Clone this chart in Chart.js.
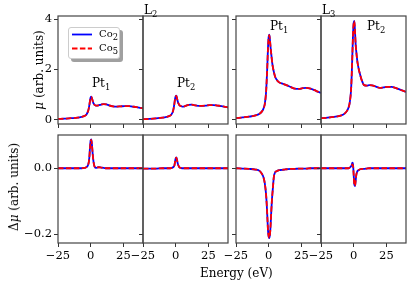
<!DOCTYPE html>
<html>
<head>
<meta charset="utf-8">
<script src="https://cdn.jsdelivr.net/npm/chart.js@4"></script>
<style>
  body { margin: 0; background: #fff; }
  #wrap { position: relative; width: 415px; height: 289px; overflow: hidden; font-family: "DejaVu Serif", serif; color: #000; }
  canvas { position: absolute; }
  .txt { position: absolute; white-space: nowrap; font-size: 12px; line-height: 1; }
  .txt sub { font-size: 70%; vertical-align: -0.3em; line-height: 0; }
  .rot { transform: translate(-50%, -50%) rotate(-90deg); }
  #legend { position: absolute; left: 68px; top: 27px; width: 50px; height: 30px; background: #fff;
            border: 1px solid #ccc; border-radius: 3px; box-shadow: 3px 3px 0 #a0a0a0; }
  #legend .lab { position: absolute; left: 30px; font-size: 10px; line-height: 1; }
  #legend svg { position: absolute; left: 3px; top: 0; }
</style>
</head>
<body>
<div id="wrap">
  <div id="legend">
    <svg width="24" height="30">
      <line x1="0" y1="6.5" x2="20" y2="6.5" stroke="#0000ff" stroke-width="1.8"/>
      <line x1="0" y1="20.5" x2="20" y2="20.5" stroke="#ff0000" stroke-width="1.8" stroke-dasharray="5.5 2.4"/>
    </svg>
    <div class="lab" style="top:1px">Co<sub>2</sub></div>
    <div class="lab" style="top:15px">Co<sub>5</sub></div>
  </div>
</div>
<script>
// energy grid (eV), shared by every panel
const energy = [-25, -20, -15, -10, -7, -5, -4, -3, -2, -1.5, -1, -0.5, 0, 0.5, 1, 1.5, 2, 2.5, 3, 4, 5, 6, 8, 10, 12, 14, 17, 20, 23, 26, 29, 32, 35, 38, 40];

// mu, L2 edge
const l2Pt1Co2 = [0.04, 0.05, 0.07, 0.09, 0.12, 0.15, 0.18, 0.24, 0.35, 0.45, 0.6, 0.78, 0.9, 0.92, 0.85, 0.76, 0.68, 0.63, 0.6, 0.57, 0.57, 0.58, 0.61, 0.63, 0.62, 0.58, 0.54, 0.53, 0.54, 0.55, 0.55, 0.53, 0.51, 0.48, 0.46];
const l2Pt1Co5 = [0.04, 0.05, 0.07, 0.09, 0.12, 0.15, 0.18, 0.24, 0.35, 0.45, 0.59, 0.77, 0.89, 0.91, 0.85, 0.76, 0.68, 0.63, 0.6, 0.57, 0.57, 0.58, 0.61, 0.63, 0.62, 0.58, 0.54, 0.53, 0.54, 0.55, 0.55, 0.53, 0.51, 0.48, 0.46];
const l2Pt2Co2 = [0.03, 0.04, 0.06, 0.09, 0.12, 0.15, 0.18, 0.24, 0.36, 0.48, 0.65, 0.83, 0.94, 0.96, 0.86, 0.75, 0.67, 0.62, 0.58, 0.55, 0.53, 0.53, 0.57, 0.6, 0.61, 0.59, 0.56, 0.56, 0.57, 0.59, 0.59, 0.57, 0.55, 0.52, 0.5];
const l2Pt2Co5 = [0.03, 0.04, 0.06, 0.09, 0.12, 0.15, 0.18, 0.24, 0.36, 0.48, 0.64, 0.82, 0.93, 0.95, 0.86, 0.75, 0.67, 0.62, 0.58, 0.55, 0.53, 0.53, 0.57, 0.6, 0.61, 0.59, 0.56, 0.56, 0.57, 0.59, 0.59, 0.57, 0.55, 0.52, 0.5];
// mu, L3 edge
const l3Pt1Co2 = [0.07, 0.1, 0.13, 0.18, 0.25, 0.35, 0.45, 0.63, 1.1, 1.6, 2.2, 2.9, 3.3, 3.38, 3.15, 2.85, 2.6, 2.35, 2.15, 1.89, 1.7, 1.6, 1.49, 1.45, 1.41, 1.37, 1.3, 1.24, 1.23, 1.26, 1.27, 1.24, 1.18, 1.11, 1.07];
const l3Pt1Co5 = [0.07, 0.1, 0.13, 0.18, 0.25, 0.35, 0.45, 0.63, 1.1, 1.6, 2.2, 2.88, 3.28, 3.36, 3.14, 2.85, 2.6, 2.35, 2.15, 1.89, 1.7, 1.6, 1.49, 1.45, 1.41, 1.37, 1.3, 1.24, 1.23, 1.26, 1.27, 1.24, 1.18, 1.11, 1.07];
const l3Pt2Co2 = [0.07, 0.09, 0.12, 0.17, 0.25, 0.37, 0.48, 0.7, 1.2, 1.8, 2.6, 3.4, 3.85, 3.93, 3.5, 3.0, 2.7, 2.45, 2.25, 1.98, 1.78, 1.6, 1.38, 1.36, 1.38, 1.37, 1.32, 1.27, 1.29, 1.31, 1.31, 1.27, 1.21, 1.15, 1.11];
const l3Pt2Co5 = [0.07, 0.09, 0.12, 0.17, 0.25, 0.37, 0.48, 0.7, 1.2, 1.8, 2.6, 3.4, 3.85, 3.92, 3.5, 3.0, 2.7, 2.45, 2.25, 1.98, 1.78, 1.6, 1.38, 1.36, 1.38, 1.37, 1.32, 1.27, 1.29, 1.31, 1.31, 1.27, 1.21, 1.15, 1.11];
// delta mu
const dL2Pt1Co2 = [0, 0, 0, 0, 0, 0.001, 0.002, 0.004, 0.01, 0.018, 0.035, 0.065, 0.085, 0.088, 0.07, 0.045, 0.025, 0.012, 0.005, 0.001, 0.002, 0.003, 0.002, 0.001, 0, 0, 0, 0, 0, 0, 0, 0, 0, 0, 0];
const dL2Pt1Co5 = [0, 0, 0, 0, 0, 0.001, 0.002, 0.004, 0.01, 0.018, 0.034, 0.063, 0.083, 0.086, 0.069, 0.045, 0.025, 0.012, 0.005, 0.001, 0.002, 0.003, 0.002, 0.001, 0, 0, 0, 0, 0, 0, 0, 0, 0, 0, 0];
const dL2Pt2Co2 = [-0.001, -0.001, -0.001, 0, 0, 0, 0, 0.001, 0.003, 0.005, 0.008, 0.02, 0.03, 0.033, 0.026, 0.016, 0.009, 0.005, 0.002, 0.001, 0, 0, 0, 0, 0, 0, 0, 0, 0, 0, 0, 0, 0, 0, 0];
const dL2Pt2Co5 = [-0.001, -0.001, -0.001, 0, 0, 0, 0, 0.001, 0.003, 0.005, 0.008, 0.019, 0.029, 0.032, 0.025, 0.016, 0.009, 0.005, 0.002, 0.001, 0, 0, 0, 0, 0, 0, 0, 0, 0, 0, 0, 0, 0, 0, 0];
const dL3Pt1Co2 = [0, -0.001, -0.002, -0.004, -0.008, -0.018, -0.027, -0.045, -0.08, -0.11, -0.15, -0.19, -0.208, -0.212, -0.2, -0.17, -0.13, -0.095, -0.07, -0.025, -0.012, -0.009, -0.006, -0.005, -0.004, -0.003, -0.002, -0.002, -0.001, -0.001, -0.001, 0, 0, 0, 0];
const dL3Pt1Co5 = [0, -0.001, -0.002, -0.004, -0.008, -0.018, -0.027, -0.045, -0.08, -0.11, -0.15, -0.19, -0.207, -0.211, -0.2, -0.17, -0.13, -0.095, -0.07, -0.025, -0.012, -0.009, -0.006, -0.005, -0.004, -0.003, -0.002, -0.002, -0.001, -0.001, -0.001, 0, 0, 0, 0];
const dL3Pt2Co2 = [0, 0, 0, 0, 0, 0, 0, 0.002, 0.006, 0.01, 0.017, 0.012, -0.02, -0.05, -0.054, -0.038, -0.02, -0.012, -0.008, -0.005, -0.003, -0.002, -0.002, -0.001, 0, 0, 0, 0, 0, 0, 0, 0, 0, 0, 0];
const dL3Pt2Co5 = [0, 0, 0, 0, 0, 0, 0, 0.002, 0.005, 0.008, 0.012, 0.008, -0.02, -0.05, -0.053, -0.038, -0.02, -0.012, -0.008, -0.005, -0.003, -0.002, -0.002, -0.001, 0, 0, 0, 0, 0, 0, 0, 0, 0, 0, 0];

const xTicks = [-25, 0, 25];
const muTicks = [0, 2, 4];
const dmuTicks = [-0.2, 0];

// panel geometry (px)
const colLeft = [58, 143, 236, 321];
const rowTop = [16, 135];
const panelW = 85, panelH = 108;
const AW = 45, PT = 10, PR = 10, AH = 24;

const wrap = document.getElementById('wrap');
const tickFont = { family: 'DejaVu Serif', size: 11.5 };

function fmt(v) {
    return String(v).replace('-', '\u2212');
}

// full box around each axes, like the matplotlib spines
const framePlugin = {
    id: 'frame',
    afterDatasetsDraw(chart) {
        const a = chart.chartArea, c = chart.ctx;
        c.save();
        c.strokeStyle = '#444';
        c.lineWidth = 1.2;
        c.strokeRect(Math.round(a.left), Math.round(a.top), Math.round(a.right - a.left), Math.round(a.bottom - a.top));
        c.restore();
    }
};

function makePanel(col, row, co2, co5) {
    const cv = document.createElement('canvas');
    cv.width = AW + panelW + PR;
    cv.height = PT + panelH + AH;
    cv.style.left = (colLeft[col] - AW) + 'px';
    cv.style.top = (rowTop[row] - PT) + 'px';
    wrap.appendChild(cv);

    const bottom = row === 1;
    const yT = bottom ? dmuTicks : muTicks;
    new Chart(cv.getContext('2d'), {
        type: 'line',
        data: {
            datasets: [
                { data: energy.map((e, i) => ({ x: e, y: co2[i] })), order: 1, borderColor: '#0000ff', borderWidth: 1.8, pointRadius: 0, cubicInterpolationMode: 'monotone' },
                { data: energy.map((e, i) => ({ x: e, y: co5[i] })), order: 0, borderColor: '#ff0000', borderWidth: 1.8, borderDash: [5.5, 2.4], pointRadius: 0, cubicInterpolationMode: 'monotone' }
            ]
        },
        options: {
            responsive: false,
            animation: false,
            devicePixelRatio: 1,
            layout: { padding: { left: 0, top: PT, right: PR, bottom: 0 } },
            plugins: { legend: { display: false }, tooltip: { enabled: false } },
            scales: {
                x: {
                    type: 'linear', min: -25, max: 40,
                    afterBuildTicks: s => { s.ticks = xTicks.map(v => ({ value: v })); },
                    afterFit: s => { s.height = AH; },
                    ticks: { display: bottom, font: tickFont, color: '#000', padding: 2, maxRotation: 0, callback: v => fmt(v) },
                    grid: { drawOnChartArea: false, tickLength: 4, color: '#333' },
                    border: { display: false }
                },
                y: {
                    type: 'linear',
                    min: bottom ? -0.227 : -0.16,
                    max: bottom ? 0.101 : 4.12,
                    afterBuildTicks: s => { s.ticks = yT.map(v => ({ value: v })); },
                    afterFit: s => { s.width = AW; },
                    ticks: { display: col === 0, font: tickFont, color: '#000', padding: 2,
                             callback: v => bottom ? fmt(v.toFixed(1)) : fmt(v) },
                    grid: { drawOnChartArea: false, tickLength: 4, color: '#333' },
                    border: { display: false }
                }
            }
        },
        plugins: [framePlugin]
    });
}

makePanel(0, 0, l2Pt1Co2, l2Pt1Co5);
makePanel(1, 0, l2Pt2Co2, l2Pt2Co5);
makePanel(2, 0, l3Pt1Co2, l3Pt1Co5);
makePanel(3, 0, l3Pt2Co2, l3Pt2Co5);
makePanel(0, 1, dL2Pt1Co2, dL2Pt1Co5);
makePanel(1, 1, dL2Pt2Co2, dL2Pt2Co5);
makePanel(2, 1, dL3Pt1Co2, dL3Pt1Co5);
makePanel(3, 1, dL3Pt2Co2, dL3Pt2Co5);

// text overlays
function addText(html, left, top, cls) {
    const d = document.createElement('div');
    d.className = 'txt' + (cls ? ' ' + cls : '');
    d.innerHTML = html;
    d.style.left = left + 'px';
    d.style.top = top + 'px';
    wrap.appendChild(d);
    return d;
}
addText('L<sub>2</sub>', 144, 4);
addText('L<sub>3</sub>', 322, 4);
addText('Pt<sub>1</sub>', 92, 77);
addText('Pt<sub>2</sub>', 177, 77);
addText('Pt<sub>1</sub>', 270, 20);
addText('Pt<sub>2</sub>', 367, 20);
addText('Energy (eV)', 200, 267);
addText('<i>\u03bc</i> (arb. units)', 39, 70, 'rot');
addText('\u0394<i>\u03bc</i> (arb. units)', 14, 187, 'rot');
wrap.appendChild(document.getElementById('legend'));
</script>
</body>
</html>
